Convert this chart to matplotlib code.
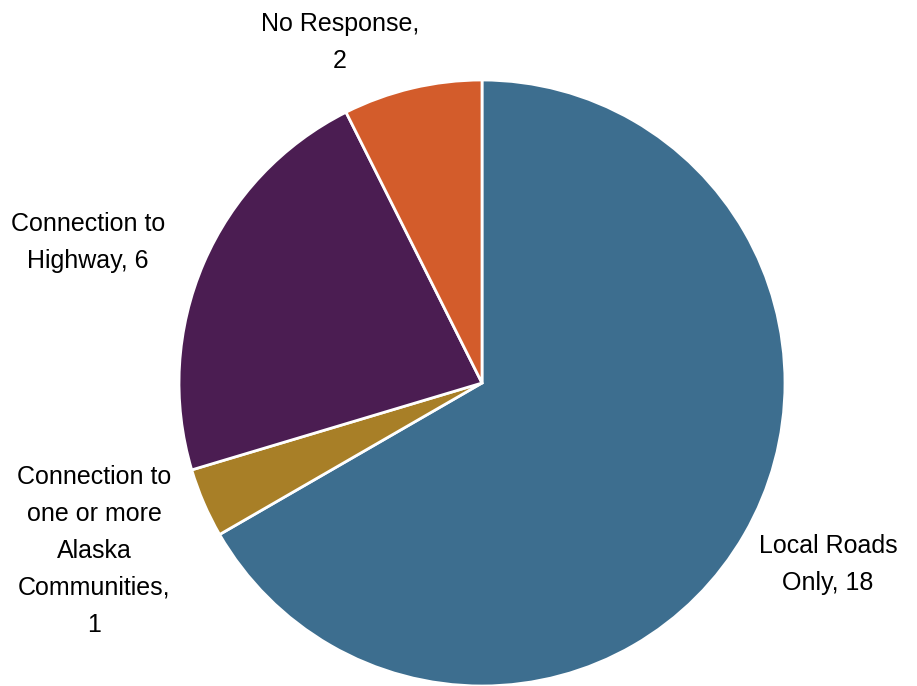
import matplotlib.pyplot as plt

plt.rcParams['font.family'] = ['Liberation Sans', 'DejaVu Sans']

# datos del grafico
categorias = ['Local Roads Only', 'Connection to one or more Alaska Communities',
              'Connection to Highway', 'No Response']
valores = [18, 1, 6, 2]
colores = ['#3d6e8f', '#a87f27', '#4b1d52', '#d35c2b']

# posiciones de las etiquetas (coordenadas del eje, radio = 1)
pos_etiquetas = [(1.142, -0.60), (-1.28, -0.554), (-1.30, 0.465), (-0.469, 1.125)]
textos = ['Local Roads\nOnly, 18', 'Connection to\none or more\nAlaska\nCommunities,\n1',
          'Connection to\nHighway, 6', 'No Response,\n2']

fig = plt.figure(figsize=(9.17, 6.86), dpi=100)
ax = fig.add_axes([179/917, 0, 606/917, 606/686])
ax.pie(valores, colors=colores, startangle=90, counterclock=False,
       wedgeprops=dict(edgecolor='white', linewidth=2))
ax.set_xlim(-1, 1)
ax.set_ylim(-1, 1)
ax.set_aspect('equal')
ax.axis('off')

for (x, y), t in zip(pos_etiquetas, textos):
    ax.text(x, y, t, ha='center', va='center', fontsize=18, linespacing=1.68,
            color='black', clip_on=False)

fig.savefig('out.png', dpi=100)
